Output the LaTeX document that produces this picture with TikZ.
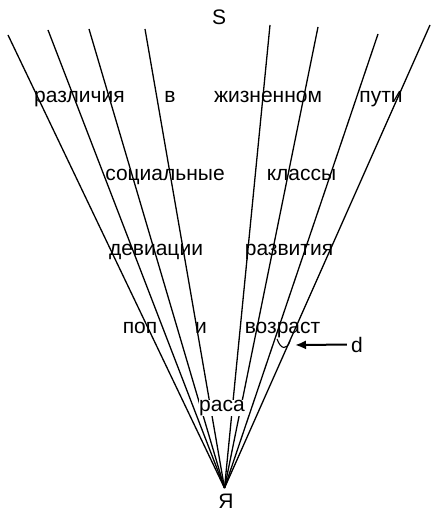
\documentclass[tikz,border=0pt]{standalone}
\usepackage{fontspec}
\setmainfont{Liberation Sans}
\usetikzlibrary{arrows.meta}
\tikzset{
  lbl/.style={anchor=base,inner sep=0pt},
  fanline/.style={line width=1.3pt}
}

\begin{document}
\begin{tikzpicture}[x=1pt,y=-1pt,font=\fontsize{21}{25}\selectfont]
\useasboundingbox (0,0) rectangle (432,513);
\coordinate (ya) at (224.5,488);
% fan of lines from the apex
\foreach \nm/\xx/\yy in {t1/8/35,t2/48/30,t3/89/29,t4/145/29,t5/270/25,t6/318/27,t7/378/34,t8/430/25}{
  \coordinate (\nm) at (\xx,\yy);
  \draw[fanline] (ya) -- (\nm);
}
\node[lbl] (s) at (219,25) {S};
\node[lbl] (ja) at (226,508) {Я};
% rows of words
\node[lbl] (razl) at (79.5,102.5) {различия};
\node[lbl] (v) at (170,102.5) {в};
\node[lbl] (zhizn) at (268,102.5) {жизненном};
\node[lbl] (puti) at (381,102.5) {пути};
\node[lbl] (soc) at (165,180.5) {социальные};
\node[lbl] (klass) at (301.5,180.5) {классы};
\node[lbl] (dev) at (156,255.5) {девиации};
\node[lbl] (razv) at (289,255.5) {развития};
\node[lbl] (pol) at (140,333.5) {поп};
\node[lbl] (i) at (201,333.5) {и};
\node[lbl] (vozr) at (282.5,333.5) {возраст};
\node[lbl,fill=white] (rasa) at (222,411.5) {раса};
% distance mark d
\draw[line width=1.1pt] (277,339) .. controls (281,350) and (287,350) .. (290,341);
\node[lbl] (d) at (357,352) {d};
\coordinate (dtip) at (295,345);
\draw[line width=2pt,shorten <=4pt,-{Latex[length=11pt,width=9pt]}] (d) -- (dtip);
\end{tikzpicture}
\end{document}
